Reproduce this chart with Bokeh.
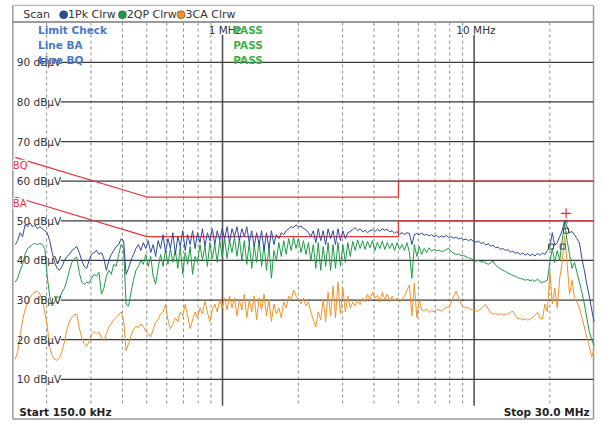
import numpy as np
from bokeh.plotting import figure
from bokeh.models import Range1d, Label
from bokeh.embed import file_html
from bokeh.resources import INLINE

# ---------------- data ----------------
F_START, F_STOP, N_SWEEP = 0.15, 30.0, 236   # MHz sweep
levels = [90, 80, 70, 60, 50, 40, 30, 20, 10]
level_labels = [f"{v} dBµV" for v in levels]
minor_freqs = [0.2, 0.3, 0.4, 0.5, 0.6, 0.7, 0.8, 0.9, 2, 3, 4, 5, 6, 7, 8, 9, 20]
major_freqs = [1, 10]
major_labels = ["1 MHz", "10 MHz"]

limit_f = [0.15, 0.5, 5, 5, 30]
limit_bq = [66, 56, 56, 60, 60]
limit_ba = [56, 46, 46, 50, 50]

pk = [44,45,47,46,49,48.5,49.5,48.5,49,48,
      48.5,48,47.5,47,45,42,39.5,38,37.5,38.5,
      40,41,41.5,42.5,43,43.5,42,40,38.5,38,
      40,41.5,42,42.5,41.5,42,40.5,37.5,40,41.5,
      42.5,43.5,44,45.5,45,36.5,38,40,41.5,43,
      44,42.5,44.5,43,45,42,44,41,45,43,
      46.5,42,45.5,43,47,41.5,46,43.5,47.5,42.5,
      46.5,44,47.5,43,47,44.5,48,43.5,47,45,
      48,44,47.5,45,48,45.5,48.5,44.5,48,46,
      48.5,45,48,46,48.5,44.5,47.5,43.5,47,44,
      47.5,42.5,47,43,47.5,44,46.5,45.5,47,46.5,
      47.5,48,48.5,48.3,49,48.5,48.7,48,47.8,47,
      46,47.5,44.5,48,45,47.5,44,48,45.5,47.5,
      44,48,45,47.5,45.5,47,47.3,47.8,48.3,47.5,
      48,47.2,47.6,47,47.5,47.8,47.3,47.9,47.4,48,
      47.6,47.9,47.2,47.5,46.8,47.3,46.6,47,46.5,47,
      46.8,44,46.5,46.8,46.5,46.9,46.4,46.6,46.2,46.5,
      46,46.3,45.8,46.2,45.9,46.3,45.8,46,45.6,45.9,
      45.4,45.7,45.2,45.4,45,45.3,44.8,44.6,44.9,44.3,
      44.5,43.9,44.2,43.6,43.8,43.2,43.4,42.8,43,42.5,
      42.7,42.1,42.3,41.8,42,41.5,41.9,41.3,41.7,41.2,
      41.6,41.1,41.8,41.3,41.9,41.5,42.5,43.5,47,43.8,
      44.5,46,47.5,50,48.5,47,47.3,46.5,45.5,44.5,
      40.5,37.5,34,31,27.5,24.5]

qp = [34.5,35.5,37.5,39,41.5,43,43.5,44,44.3,44,
      44.3,44,43,36,31,28.5,29.5,31,30.5,32,
      33,35,37.5,39.5,40.5,40.8,37,34.5,34,34.5,
      34.3,35.5,36.5,36,37,31.5,33,36,37.5,36.5,
      39,38.5,41.5,44,43,29,28.5,32,35,37.5,
      38.5,40,39,41.5,38.5,41,36,34,38,41.5,
      38.5,42.5,39,43,39.5,42.5,38,43.5,36.5,42,
      39,43.5,36.5,41,39.5,44,40,43.5,38.5,44.5,
      40.5,44,39.5,45,41,45.5,40.5,45,42,46,
      41,45.5,40,45,39,44.5,38,44,39.5,45,
      38.5,44,37.5,43.5,35.5,42.5,40,44.5,41,45,
      41.5,45.5,42.5,45.8,43,45.5,42,45,41.5,44.5,
      40,44,38,44.5,37.5,43.5,38.5,44.5,37.5,44,
      38,44.5,38.5,44,39.5,44.5,41,44.8,42.5,45.2,
      43,45,42.8,44.8,43.2,45,42.5,44.6,43,44.9,
      42.8,44.5,43,44.3,42.5,44.5,42.8,44,42.5,44.5,
      42,35.5,44,41,43.5,41.5,43,42,43.2,42.3,
      42.8,42.5,42.6,42.2,42.4,42.8,43,42.2,41.8,41.5,
      41.6,41.2,41.3,40.9,40.7,40.4,40.2,39.8,40,39.6,
      39.7,39.3,39,39.4,39.8,38.8,38.3,37.9,37.5,37.2,
      36.8,36.5,36.2,36,35.7,35.4,35.3,35,35.2,34.9,
      35.1,34.7,35.3,34.6,34.4,34.7,35,39.5,43,39.5,
      42.5,40,45,49.4,45,41.5,38,39.5,37,34.5,
      32,29,25.5,22,20,18.5]

av = [15,17,21,25,27.5,29.5,30.5,31.5,32,32.2,
      31.5,30,27,23.5,18,16,15,14.8,15.5,17,
      19.5,22.5,24.5,25.6,26.3,26.4,23,20.5,19,18.3,
      19.5,21.4,22,21.5,22,20.5,19.7,21.5,23.2,24,
      25,25.6,26.3,27,25,17.2,19,21,22.5,23.4,
      23,24,23.4,22,21.5,20.7,22.5,24.5,25,26.5,
      27,28.9,25,22.7,24,25.5,24.5,27,26,28.9,
      26,22.8,25,27,25.5,28,26.5,29.6,27,24.5,
      27.5,29,27,30,28,30.5,27.5,31,28,30.5,
      26,30,27.5,31.5,25.5,30,27,31,25,30.5,
      27.5,31.5,26,30,24.6,29,26.5,28,25.5,29.5,
      28,31,30,32.5,31,30,29,30.5,28.5,29.5,
      27,25,23.2,27,25,30,24.6,32,26,33.5,
      25.5,34.5,26.5,33,27,31,28,29.5,28.5,30,
      28.8,30.5,29.5,31.5,30,32,30.5,31.2,29.5,32,
      30,31.5,29.5,31,29.8,30.5,29.5,30.2,31,32.5,
      33.8,26,34.3,25.6,30,27.5,27.2,27.8,26.8,27.4,
      27,27.6,27.5,27.2,27.8,28.2,28.1,29.5,31,32.2,
      30.5,29,28.3,28.1,28,27.6,27.5,27.2,27.3,27.8,
      28.3,28.9,27.8,26.8,26.4,26.6,26.3,26.5,26.2,26.4,
      26.5,26.9,27.2,26.2,25.2,25.4,25,25.3,24.9,25.2,
      25.6,26.2,26.9,25.5,25.2,29,27,37,29,33,
      28,35.5,39.5,46.2,39.5,31.4,35,30.5,29.5,28,
      25.6,23.2,20.5,18.2,15.7,17.5]

peak_marker_f = [23.2]
peak_marker_v = [51.9]
sq_marker_f = [20.2, 22.5, 23.2]
sq_marker_v = [43.5, 43.5, 47.5]
qp_marker_f = [23.2]
qp_marker_v = [49.8]

freq = np.geomspace(F_START, F_STOP, N_SWEEP)
assert len(pk) == len(qp) == len(av) == N_SWEEP, (len(pk), len(qp), len(av))

# ---------------- layout helpers (reference pixel -> data) ----------------
def fx(px):
    return 10 ** ((px - 225.0) / 255.0)

def fy(py):
    return 90.0 - (py - 63.0) / 4.0375

W, H = 595, 420
p = figure(width=W, height=H, x_axis_type="log",
           x_range=Range1d(fx(0), fx(603)), y_range=Range1d(fy(428), fy(0)),
           x_axis_location=None, y_axis_location=None,
           output_backend="svg", toolbar_location=None, min_border=0)
p.outline_line_color = None
p.xgrid.visible = False
p.ygrid.visible = False
p.background_fill_color = "white"
p.border_fill_color = "white"

FONT = "DejaVu Sans"
DARK = "#333333"

# outer frame and header separator
frame_col = "#9a9a9a"
p.line([fx(12.5), fx(12.5)], [fy(5), fy(426.5)], line_color=frame_col, line_width=1.5)
p.line([fx(601), fx(601)], [fy(5), fy(426.5)], line_color=frame_col, line_width=1.5)
p.line([fx(12.5), fx(601)], [fy(5), fy(5)], line_color="#b5b5b5", line_width=1.2)
p.line([fx(12.5), fx(601)], [fy(426.5), fy(426.5)], line_color=frame_col, line_width=1.5)
p.line([fx(12.5), fx(601)], [fy(22), fy(22)], line_color="#7a7a7a", line_width=1.5)

# vertical dashed grid
for f in minor_freqs:
    p.line([f, f], [fy(22.5), fy(413)], line_color="#8c8c8c", line_width=1, line_dash="3 3")
# solid decade lines
for f in major_freqs:
    p.line([f, f], [fy(35), fy(413)], line_color="#555555", line_width=1.6)
for f, t, lx in zip(major_freqs, major_labels, [211, 462]):
    p.add_layout(Label(x=fx(lx), y=fy(30), text=t, text_align="left",
                       text_baseline="middle", text_font=FONT, text_font_size="10.5px",
                       text_color=DARK))

# horizontal grid lines + labels
for v, t in zip(levels, level_labels):
    p.line([fx(61), fx(601)], [v, v], line_color="#3a3a3a", line_width=1.2)
    p.add_layout(Label(x=fx(16.5), y=v, text=t, text_align="left", text_baseline="middle",
                       text_font=FONT, text_font_size="10.5px", text_color=DARK))

# limit lines
RED = "#e8323c"
p.line(limit_f, limit_bq, line_color=RED, line_width=1.2)
p.line(limit_f, limit_ba, line_color=RED, line_width=1.2)
p.add_layout(Label(x=fx(12.5), y=fy(168), text="BQ", text_align="left", text_baseline="middle",
                   text_font=FONT, text_font_size="10px", text_color=RED,
                   background_fill_color="white"))
p.add_layout(Label(x=fx(12.5), y=fy(207), text="BA", text_align="left", text_baseline="middle",
                   text_font=FONT, text_font_size="10px", text_color=RED,
                   background_fill_color="white"))

# traces
ORANGE, GREEN, BLUE = "#ef9329", "#1f9a45", "#2c4a9e"
p.line(freq, av, line_color=ORANGE, line_width=1)
p.line(freq, qp, line_color=GREEN, line_width=1)
p.line(freq, pk, line_color=BLUE, line_width=1)

# markers
p.scatter(sq_marker_f, sq_marker_v, marker="square", size=5, fill_color=None,
          line_color="#2d4d2d", line_width=1)
p.scatter(qp_marker_f, qp_marker_v, marker="x", size=5, line_color="#1a6b30", line_width=1)
p.scatter(peak_marker_f, peak_marker_v, marker="cross", size=10, line_color=RED, line_width=1.2)

# header
p.add_layout(Label(x=fx(23), y=fy(14.5), text="Scan", text_align="left", text_baseline="middle",
                   text_font=FONT, text_font_size="11px", text_color=DARK))
hdr = [(64, BLUE, "1Pk Clrw"), (123.5, GREEN, "2QP Clrw"), (183, ORANGE, "3CA Clrw")]
for cx, col, t in hdr:
    p.scatter([fx(cx)], [fy(14.5)], marker="circle", size=8, fill_color=col,
              line_color="#444444", line_width=0.6)
    p.add_layout(Label(x=fx(cx + 4.5), y=fy(14.5), text=t, text_align="left",
                       text_baseline="middle", text_font=FONT, text_font_size="11px",
                       text_color=DARK))

# limit check block
LBLUE, LGREEN = "#4a78c8", "#3bb04a"
for py, t in [(30, "Limit Check"), (45.5, "Line BA"), (61, "Line BQ")]:
    p.add_layout(Label(x=fx(38), y=fy(py), text=t, text_align="left", text_baseline="middle",
                       text_font=FONT, text_font_size="10.5px", text_font_style="bold",
                       text_color=LBLUE))
    p.add_layout(Label(x=fx(236), y=fy(py), text="PASS", text_align="left",
                       text_baseline="middle", text_font=FONT, text_font_size="10.5px",
                       text_font_style="bold", text_color=LGREEN))

# footer
p.add_layout(Label(x=fx(19), y=fy(419), text="Start 150.0 kHz", text_align="left",
                   text_baseline="middle", text_font=FONT, text_font_size="10.5px",
                   text_font_style="bold", text_color="#222222"))
p.add_layout(Label(x=fx(597), y=fy(419), text="Stop 30.0 MHz", text_align="right",
                   text_baseline="middle", text_font=FONT, text_font_size="10.5px",
                   text_font_style="bold", text_color="#222222"))

open("out.html", "w").write(file_html(p, INLINE))
